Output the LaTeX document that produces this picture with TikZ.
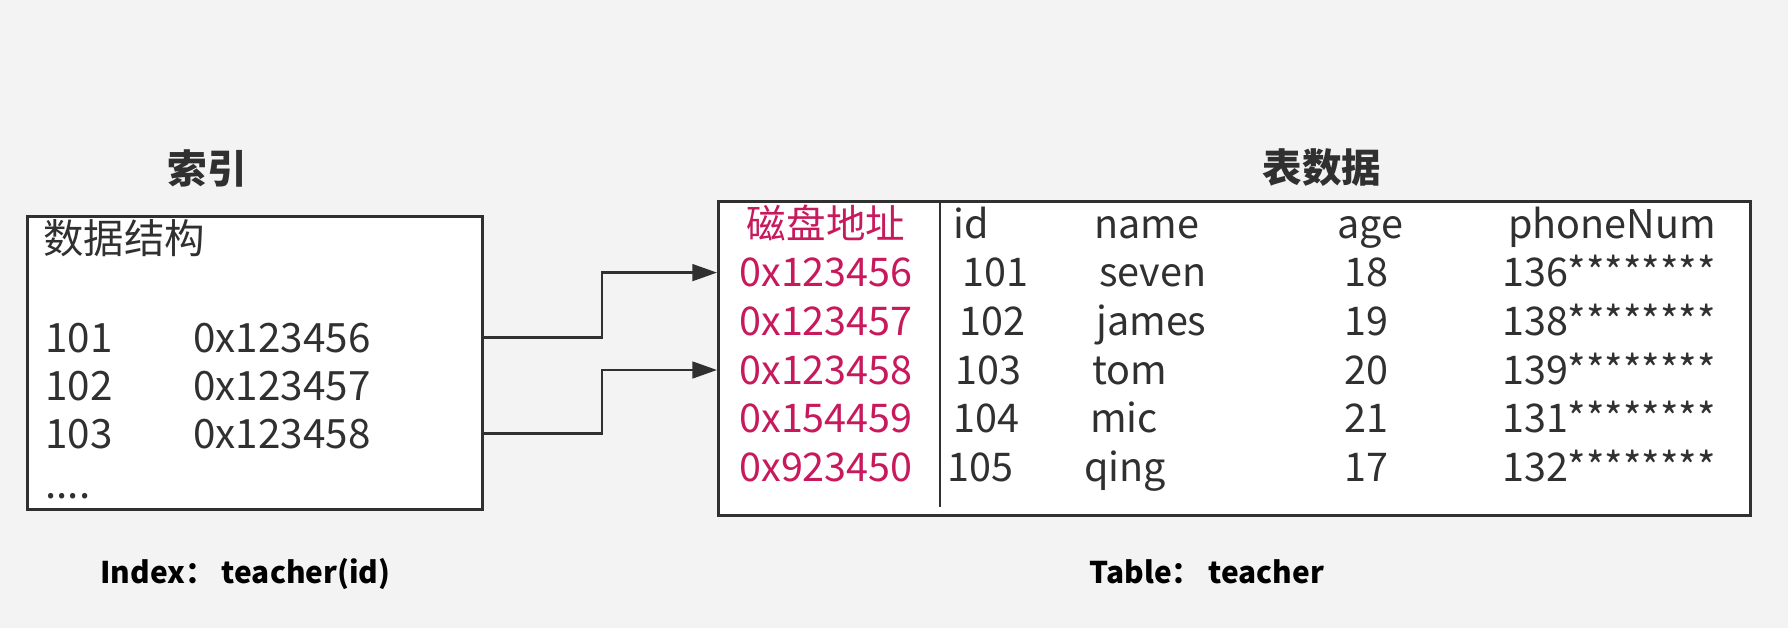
\documentclass[tikz,border=0pt]{standalone}
\usepackage{fontspec}
\setmainfont{Noto Sans CJK SC}
\usetikzlibrary{arrows.meta}
\definecolor{ink}{HTML}{303030}
\definecolor{addr}{HTML}{C8195C}
\definecolor{bg}{HTML}{F3F3F3}

\begin{document}
\begin{tikzpicture}[x=0.02cm,y=-0.02cm,
  box/.style={draw=ink,line width=1.7pt,fill=white,inner sep=0pt},
  txt/.style={inner sep=0pt,anchor=base west,text=ink,font=\fontsize{23}{27}\selectfont},
  cell/.style={inner sep=0pt,anchor=base west,text=ink,font=\fontsize{22.5}{26}\selectfont},
  addrcell/.style={cell,anchor=base,text=addr},
  ttl/.style={inner sep=0pt,text=ink,font=\fontsize{22.5}{26}\bfseries\selectfont},
  footlbl/.style={inner sep=0pt,anchor=base west,font=\fontsize{17}{20}\bfseries\selectfont},
  arr/.style={draw=ink,line width=1.4pt,-{Triangle[length=14pt,width=9.5pt]}}]
\fill[bg](0,0) rectangle (1788,628);
\useasboundingbox (0,0) rectangle (1788,628);
% index side
\node[ttl] (ttlidx) at (207,168) {索引};
\node[box,anchor=north west,minimum width=9.1cm,minimum height=5.86cm] (idxbox) at (26,215) {};
\node[txt] (kind) at (43,254) {数据结构};
\foreach\k/\v [count=\r] in {101/0x123456,102/0x123457,103/0x123458}{
    \node[txt] (k\r) at (45,{304+48*\r}) {\k};
    \node[txt] (v\r) at (193,{304+48*\r}) {\v};
}
\node[txt] (more) at (45,498) {....};
\node[footlbl] (capidx) at (100,583) {Index： teacher(id)};
% table side
\node[ttl] (ttltbl) at (1322,168) {表数据};
\node[box,anchor=north west,minimum width=20.64cm,minimum height=6.28cm] (tblbox) at (717,200) {};
\draw[ink,line width=0.8pt] (940,200) -- (940,507);
\node[addrcell] (hdaddr) at (826,238) {磁盘地址};
\node[cell] (hdid) at (953,238) {id};
\node[cell] (hdname) at (1094,238) {name};
\node[cell,anchor=base] (hdage) at (1370,238) {age};
\node[cell,anchor=base east] (hdphone) at (1716,238) {phoneNum};
\foreach\a/\i/\n/\g/\p/\dx [count=\r] in {0x123456/101/seven/18/136/7,0x123457/102/james/19/138/4,
    0x123458/103/tom/20/139/0,0x154459/104/mic/21/131/-2,0x923450/105/qing/17/132/-8}{
    \node[addrcell] (a\r) at (826,{238+48.7*\r}) {\a};
    \node[cell] (id\r) at (955+\dx,{238+48.7*\r}) {\i};
    \node[cell] (nm\r) at (1092+\dx,{238+48.7*\r}) {\n};
    \node[cell,anchor=base] (ag\r) at (1366,{238+48.7*\r}) {\g};
    \node[cell,anchor=base east] (ph\r) at (1716,{238+48.7*\r}) {\p********};
}
\node[footlbl] (captbl) at (1089,583) {Table： teacher};
% pointers
\draw[arr] (idxbox.east |- k1) -- ++(118,0) |- (tblbox.west |- a1);
\draw[arr] (idxbox.east |- k3) -- ++(118,0) |- (tblbox.west |- a3);
\end{tikzpicture}
\end{document}
